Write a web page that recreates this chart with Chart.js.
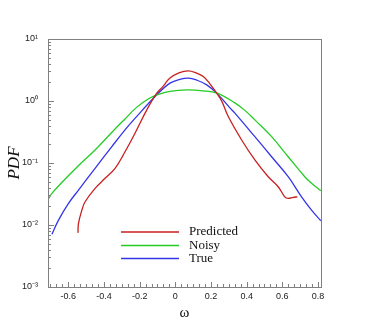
<!DOCTYPE html>
<html lang="en">
<head>
    <meta charset="UTF-8">
    <title>PDF</title>
    <script src="https://cdn.jsdelivr.net/npm/chart.js@4/dist/chart.umd.min.js"></script>
    <style>
        body { margin: 0; background: #fff; }
        #wrap { width: 366px; height: 325px; }
    </style>
</head>
<body>

<div id="wrap"><canvas id="pdf-chart"></canvas></div>

<script>
    // values
    const predX = [-0.546, -0.543, -0.524, -0.506, -0.45, -0.394, -0.338, -0.282, -0.226, -0.16, -0.104, -0.07, -0.03, 0.02, 0.073, 0.116, 0.157, 0.194, 0.232, 0.261, 0.297, 0.372, 0.446, 0.521, 0.577, 0.614, 0.633, 0.661, 0.685];
    const predY = [0.00746, 0.0106, 0.0174, 0.0237, 0.039, 0.0566, 0.082, 0.152, 0.302, 0.719, 1.34, 1.71, 2.34, 2.85, 3.07, 2.85, 2.48, 1.89, 1.34, 0.986, 0.561, 0.235, 0.112, 0.0601, 0.0414, 0.0285, 0.0269, 0.0279, 0.0285];

    const noisyX = [-0.713, -0.692, -0.634, -0.545, -0.45, -0.354, -0.282, -0.214, -0.142, -0.103, -0.03, 0.065, 0.155, 0.233, 0.334, 0.39, 0.446, 0.54, 0.633, 0.726, 0.764, 0.816];
    const noisyY = [0.0259, 0.0324, 0.0493, 0.0895, 0.162, 0.317, 0.514, 0.804, 1.12, 1.26, 1.43, 1.51, 1.46, 1.34, 0.933, 0.706, 0.496, 0.266, 0.126, 0.0601, 0.047, 0.0356];

    const trueX = [-0.692, -0.655, -0.599, -0.543, -0.45, -0.356, -0.282, -0.23, -0.104, -0.03, 0.02, 0.073, 0.122, 0.176, 0.232, 0.306, 0.334, 0.446, 0.54, 0.633, 0.708, 0.764, 0.816];
    const trueY = [0.00711, 0.012, 0.0223, 0.0366, 0.082, 0.184, 0.342, 0.509, 1.26, 1.94, 2.21, 2.34, 2.16, 1.82, 1.34, 0.775, 0.637, 0.266, 0.126, 0.0601, 0.0285, 0.0174, 0.0117];

    const xTickVals = [-0.6, -0.4, -0.2, 0, 0.2, 0.4, 0.6, 0.8];
    const xTickLabels = ['-0.6', '-0.4', '-0.2', '0', '0.2', '0.4', '0.6', '0.8'];
    const yTickVals = [0.001, 0.01, 0.1, 1, 10];
    const yTickLabels = ['10\u207B\u00B3', '10\u207B\u00B2', '10\u207B\u00B9', '10\u2070', '10\u00B9'];

    const seriesNames = ['Predicted', 'Noisy', 'True'];
    const seriesColors = ['rgb(200,32,32)', 'rgb(36,204,36)', 'rgb(52,52,232)'];

    function pts(xs, ys) {
        return xs.map((x, i) => ({x: x, y: ys[i]}));
    }

    // frame, inward ticks and legend drawn on top of the chart
    const decor = {
        id: 'decor',
        afterDraw(chart) {
            const ctx = chart.ctx;
            const a = chart.chartArea;
            const xs = chart.scales.x, ys = chart.scales.y;
            ctx.save();
            ctx.strokeStyle = '#808080';
            ctx.lineWidth = 1;
            ctx.strokeRect(Math.round(a.left) + 0.5, Math.round(a.top) + 0.5,
                Math.round(a.right - a.left), Math.round(a.bottom - a.top));

            ctx.beginPath();
            // x ticks
            for (let v = -0.7; v <= 0.81; v += 0.2 / 6) {
                const px = Math.round(xs.getPixelForValue(v)) + 0.5;
                if (px < a.left || px > a.right) continue;
                const major = xTickVals.some(t => Math.abs(t - v) < 1e-6);
                ctx.moveTo(px, a.bottom);
                ctx.lineTo(px, a.bottom - (major ? 5 : 3));
            }
            // y ticks
            for (let k = -3; k <= 0; k++) {
                for (let m = 1; m <= 10; m++) {
                    const v = m * Math.pow(10, k);
                    const py = Math.round(ys.getPixelForValue(v)) + 0.5;
                    const major = (m === 1 || m === 10);
                    ctx.moveTo(a.left, py);
                    ctx.lineTo(a.left + (major ? 6 : 3), py);
                }
            }
            ctx.stroke();

            // legend
            const lx0 = 121, lx1 = 179, ly = [232, 245.5, 258.5];
            ctx.font = '13px "Liberation Serif", serif';
            ctx.textBaseline = 'middle';
            chart.data.datasets.forEach((ds, i) => {
                ctx.strokeStyle = ds.borderColor;
                ctx.lineWidth = 1.5;
                ctx.beginPath();
                ctx.moveTo(lx0, ly[i]);
                ctx.lineTo(lx1, ly[i]);
                ctx.stroke();
                ctx.fillStyle = '#111';
                ctx.fillText(ds.label, 189, ly[i]);
            });
            ctx.restore();
        }
    };

    const datasets = [pts(predX, predY), pts(noisyX, noisyY), pts(trueX, trueY)].map((d, i) => ({
        label: seriesNames[i],
        data: d,
        borderColor: seriesColors[i],
        borderWidth: 1.3,
        pointRadius: 0,
        fill: false,
        tension: 0.4
    }));

    new Chart('pdf-chart', {
        type: 'line',
        data: {datasets: datasets},
        options: {
            responsive: true,
            maintainAspectRatio: false,
            animation: false,
            layout: {padding: {top: 39, right: 45, left: 0, bottom: 0}},
            plugins: {
                legend: {display: false},
                tooltip: {enabled: false}
            },
            scales: {
                x: {
                    type: 'linear',
                    min: -0.714,
                    max: 0.817,
                    grid: {display: false, drawTicks: false},
                    border: {display: false},
                    afterBuildTicks: s => { s.ticks = xTickVals.map(v => ({value: v})); },
                    afterFit: s => { s.height = 38; },
                    ticks: {
                        autoSkip: false,
                        maxRotation: 0,
                        padding: 4,
                        color: '#222',
                        font: {family: '"Liberation Sans", Arial, sans-serif', size: 9},
                        callback: (v, i) => xTickLabels[i]
                    },
                    title: {
                        display: true,
                        text: 'ω',
                        color: '#111',
                        font: {family: '"Liberation Serif", serif', size: 15},
                        padding: {top: 0, bottom: 3}
                    }
                },
                y: {
                    type: 'logarithmic',
                    min: 0.001,
                    max: 10,
                    grid: {display: false, drawTicks: false},
                    border: {display: false},
                    afterBuildTicks: s => { s.ticks = yTickVals.map(v => ({value: v})); },
                    afterFit: s => { s.width = 48; },
                    ticks: {
                        autoSkip: false,
                        padding: 10,
                        color: '#222',
                        font: {family: '"Liberation Sans", Arial, sans-serif', size: 9},
                        callback: (v, i) => yTickLabels[i]
                    },
                    title: {
                        display: true,
                        text: 'PDF',
                        color: '#111',
                        font: {family: '"Liberation Serif", serif', size: 17, style: 'italic'},
                        padding: {top: 4, bottom: 0}
                    }
                }
            }
        },
        plugins: [decor]
    });
</script>

</body>
</html>
